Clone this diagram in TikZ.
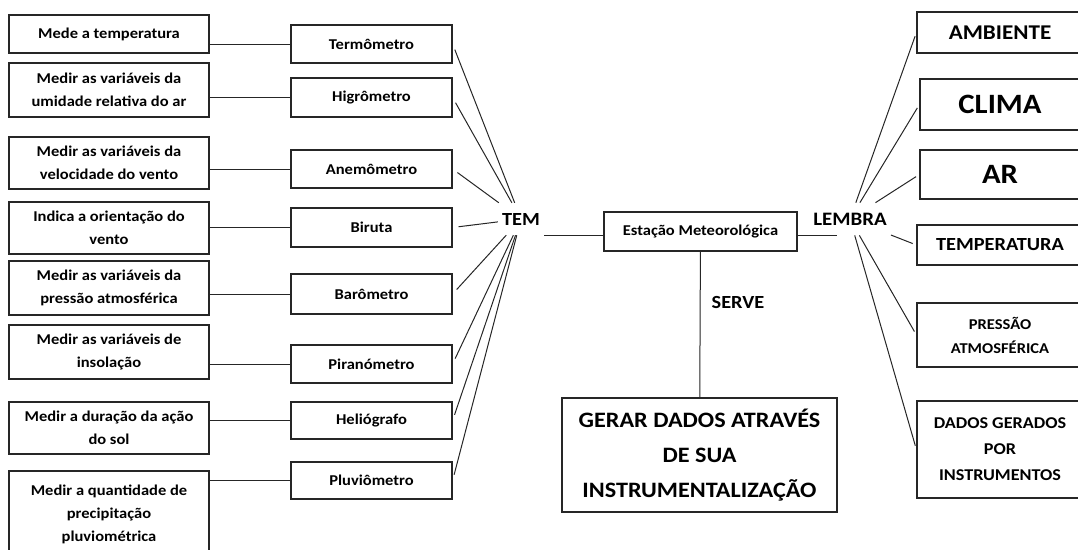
\documentclass[tikz,border=0pt]{standalone}
\usepackage{fontspec}
\setmainfont{Carlito}[FakeStretch=1.1]
\usetikzlibrary{positioning, calc}

\begin{document}
\begin{tikzpicture}[x=1pt, y=-1pt]\bfseries
	\tikzstyle{caixa} = [draw=black!85, line width=1.2pt, rectangle, inner sep=0pt, align=center, font=\fontsize{15}{23}\selectfont\bfseries]
	\tikzstyle{desc} = [caixa, minimum width=200pt]
	\tikzstyle{instr} = [caixa, minimum width=161pt]
	\tikzstyle{tema} = [caixa, minimum width=166pt]
	\tikzstyle{link} = [draw=black!85, line width=1pt]
	\tikzstyle{rotulo} = [inner xsep=4pt, inner ysep=10pt, font=\fontsize{18.5}{22}\selectfont\bfseries]
	
	\clip (0,0) rectangle (1078,549);
	
	% o que mede cada instrumento
	\node[desc, minimum height=38pt] (d1) at (109,34) {Mede a temperatura};
	\node[desc, minimum height=54pt] (d2) at (109,90) {Medir as variáveis da\\umidade relativa do ar};
	\node[desc, minimum height=52pt] (d3) at (109,163) {Medir as variáveis da\\velocidade do vento};
	\node[desc, minimum height=52pt] (d4) at (109,228) {Indica a orientação do\\vento};
	\node[desc, minimum height=54pt] (d5) at (109,288) {Medir as variáveis da\\pressão atmosférica};
	\node[desc, minimum height=54pt] (d6) at (109,352) {Medir as variáveis de\\insolação};
	\node[desc, minimum height=52pt] (d7) at (109,428) {Medir a duração da ação\\do sol};
	\node[desc, minimum height=86pt] (d8) at (109,514) {Medir a quantidade de\\precipitação\\pluviométrica};
	
	% instrumentos
	\node[instr, minimum height=38pt] (t1) at (371.5,44) {Termômetro};
	\node[instr, minimum height=39pt] (t2) at (371.5,97.5) {Higrômetro};
	\node[instr, minimum height=38pt] (t3) at (371.5,169) {Anemômetro};
	\node[instr, minimum height=39pt] (t4) at (371.5,227.5) {Biruta};
	\node[instr, minimum height=40pt] (t5) at (371.5,294) {Barômetro};
	\node[instr, minimum height=38pt] (t6) at (371.5,364) {Piranómetro};
	\node[instr, minimum height=37pt] (t7) at (371.5,420.5) {Heliógrafo};
	\node[instr, minimum height=37pt] (t8) at (371.5,480.5) {Pluviômetro};
	
	\node[rotulo] (tem) at (521,219) {TEM};
	\node[caixa, minimum width=193pt, minimum height=39pt] (est) at (700.5,231.5) {Estação Meteorológica};
	\node[rotulo, font=\fontsize{19}{22}\selectfont\bfseries] (lembra) at (850,219) {LEMBRA};
	\node[caixa, minimum width=275pt, minimum height=114pt, font=\fontsize{22}{35}\selectfont\bfseries] (gerar) at (699.5,455) {GERAR DADOS ATRAVÉS\\DE SUA\\INSTRUMENTALIZAÇÃO};
	
	% o que lembra
	\node[tema, minimum height=41pt, font=\fontsize{21}{25}\selectfont\bfseries] (r1) at (1000,32.5) {AMBIENTE};
	\node[tema, minimum width=160pt, minimum height=51pt, font=\fontsize{28}{32}\selectfont\bfseries] (r2) at (1000,104.5) {CLIMA};
	\node[tema, minimum width=160pt, minimum height=49pt, font=\fontsize{28}{32}\selectfont\bfseries] (r3) at (1000,174.5) {AR};
	\node[tema, minimum height=40pt, font=\fontsize{18.5}{22}\selectfont\bfseries] (r4) at (1000,245) {TEMPERATURA};
	\node[tema, minimum height=64pt, font=\fontsize{15}{24}\selectfont\bfseries] (r5) at (1000,335) {PRESSÃO\\ATMOSFÉRICA};
	\node[tema, minimum height=97pt, font=\fontsize{16.5}{26}\selectfont\bfseries] (r6) at (1000,449.5) {DADOS GERADOS\\POR\\INSTRUMENTOS};
	
	\foreach \i in {1,...,8} {
		\draw[link] (t\i.west -| d\i.east) -- (t\i.west);
		\draw[link, shorten <=6pt] (t\i.east) -- (tem);
	}
	\draw[link] (tem.south east) -- (tem.south east -| est.west);
	\draw[link] (est.east |- lembra.south) -- ([xshift=-13pt]lembra.south);
	\draw[link] (est) -- node[right=11pt, pos=.35, inner sep=0pt, font=\fontsize{18.5}{22}\selectfont\bfseries] (serve) {SERVE} (gerar);
	\foreach \i in {1,...,6}
		\draw[link, shorten >=4pt] (lembra) -- (r\i.west);
\end{tikzpicture}
\end{document}
